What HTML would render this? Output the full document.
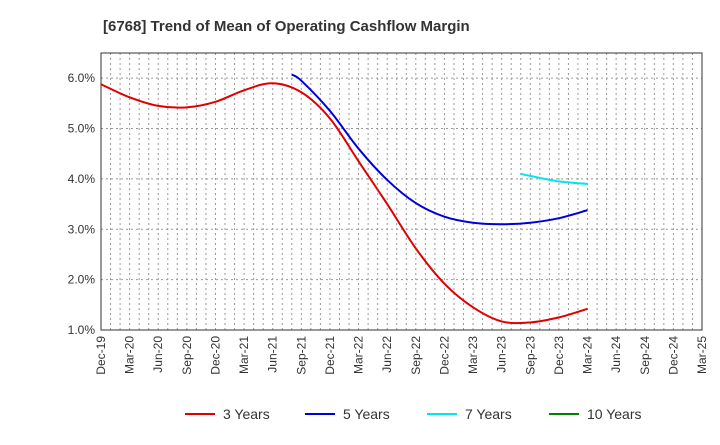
<!DOCTYPE html>
<html><head><meta charset="utf-8"><style>
body{margin:0;background:#fff;font-family:"Liberation Sans",sans-serif}
svg text{font-family:"Liberation Sans",sans-serif}
</style></head><body>
<svg id="c" width="720" height="440" xmlns="http://www.w3.org/2000/svg">
<text x="103" y="31" font-size="15" font-weight="bold" fill="#333">[6768]  Trend of Mean of Operating Cashflow Margin</text>
<g id="grid"></g><g id="axes"></g><g id="series"></g><g id="legend"></g>
</svg>
<script>
const xLabels=["Dec-19","Mar-20","Jun-20","Sep-20","Dec-20","Mar-21","Jun-21","Sep-21","Dec-21","Mar-22","Jun-22","Sep-22","Dec-22","Mar-23","Jun-23","Sep-23","Dec-23","Mar-24","Jun-24","Sep-24","Dec-24","Mar-25"];
const yTicks=[1,2,3,4,5,6];
const red3Dates=["2019-12","2020-03","2020-06","2020-09","2020-12","2021-03","2021-06","2021-09","2021-12","2022-03","2022-06","2022-09","2022-12","2023-03","2023-06","2023-09","2023-12","2024-03"];
const red3Values=[5.88,5.62,5.45,5.42,5.53,5.76,5.9,5.72,5.2,4.35,3.5,2.62,1.92,1.45,1.17,1.15,1.25,1.42];
const blue5Dates=["2021-08","2021-09","2021-12","2022-03","2022-06","2022-09","2022-12","2023-03","2023-06","2023-09","2023-12","2024-03"];
const blue5Values=[6.07,5.95,5.35,4.6,3.98,3.52,3.25,3.13,3.1,3.13,3.22,3.38];
const cyan7Dates=["2023-08","2023-09","2023-12","2024-03"];
const cyan7Values=[4.1,4.06,3.95,3.9];
const green10Dates=[];const green10Values=[];
const L=101,R=702,T=53,B=330,ymin=1,ymax=6.5;
const NS="http://www.w3.org/2000/svg";
function mi(d){const[y,m]=d.split("-").map(Number);return (y-2019)*12+m-12;}
const x=m=>L+(R-L)*m/63;
const y=v=>B-(B-T)*(v-ymin)/(ymax-ymin);
function el(t,a,p){const e=document.createElementNS(NS,t);for(const k in a)e.setAttribute(k,a[k]);p.appendChild(e);return e;}
const g=document.getElementById("grid"),ax=document.getElementById("axes"),s=document.getElementById("series"),lg=document.getElementById("legend");
for(let m=1;m<63;m++){const l=el("line",{x1:x(m),x2:x(m),y1:T,y2:B,stroke:"#999","stroke-dasharray":"2,3","stroke-width":1},g);

}
yTicks.forEach(v=>{const l=el("line",{x1:L,x2:R,y1:y(v),y2:y(v),stroke:"#999","stroke-dasharray":"2,3"},g);


const t=el("text",{x:L-6,y:y(v)+4,"text-anchor":"end","font-size":12,fill:"#333"},ax);t.textContent=v.toFixed(1)+"%";

});
const fr=el("rect",{x:L,y:T,width:R-L,height:B-T,fill:"none",stroke:"#333"},ax);


xLabels.forEach((lb,i)=>{const xx=x(i*3);const t=el("text",{transform:`translate(${xx+4},${B+6}) rotate(-90)`,"text-anchor":"end","font-size":12,fill:"#333"},ax);t.textContent=lb;

});
function path(dates,vals,col,name){if(!dates.length)return;const p=dates.map((d,i)=>[x(mi(d)),y(vals[i])]);
let d="M"+p[0][0]+","+p[0][1];for(let i=0;i<p.length-1;i++){const p0=p[i-1]||p[i],p1=p[i],p2=p[i+1],p3=p[i+2]||p2;
d+=` C${p1[0]+(p2[0]-p0[0])/6},${p1[1]+(p2[1]-p0[1])/6} ${p2[0]-(p3[0]-p1[0])/6},${p2[1]-(p3[1]-p1[1])/6} ${p2[0]},${p2[1]}`;}
const e=el("path",{d,fill:"none",stroke:col,"stroke-width":2},s);

}
path(red3Dates,red3Values,"#e00000","line-3-years");
path(blue5Dates,blue5Values,"#0000dd","line-5-years");
path(cyan7Dates,cyan7Values,"#00e5ee","line-7-years");
path(green10Dates,green10Values,"#008000","line-10-years");
[["3 Years","#e00000",185],["5 Years","#0000dd",305],["7 Years","#00e5ee",427],["10 Years","#008000",549]].forEach(([n,c,lx])=>{
const gg=el("g",{},lg);


el("line",{x1:lx,x2:lx+30,y1:414,y2:414,stroke:c,"stroke-width":2},gg);
const t=el("text",{x:lx+38,y:419,"font-size":14,fill:"#333"},gg);t.textContent=n;});
</script>
</body></html>
